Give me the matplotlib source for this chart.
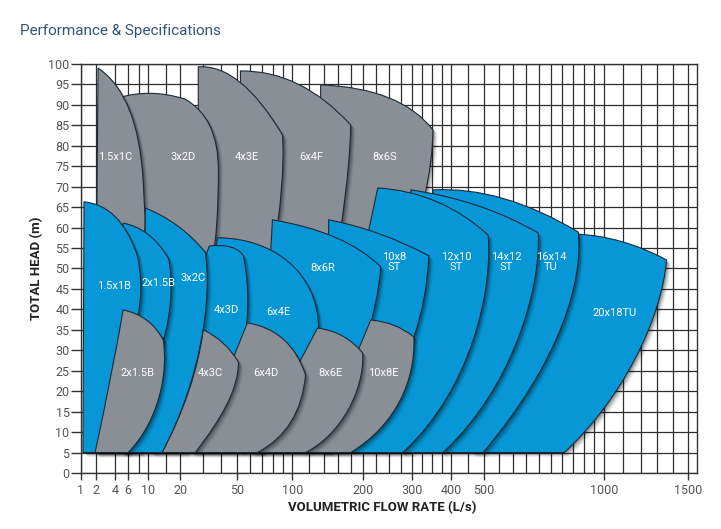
import numpy as np
import matplotlib
matplotlib.use("Agg")
import matplotlib.pyplot as plt
from matplotlib.path import Path
from matplotlib.patches import PathPatch
import matplotlib.patheffects as pe

plt.rcParams['font.family'] = ['Roboto', 'DejaVu Sans']

# axes: flow rate (L/s) on a cube-root scale, head (m)
flow_ticks = [1, 2, 4, 6, 10, 20, 50, 100, 200, 300, 400, 500, 1000, 1500]
flow_grid = [8, 15, 30, 40, 60, 70, 80, 90, 120, 140, 160, 180, 225, 250, 275,
             325, 350, 375, 450, 550, 600, 650, 700, 750, 800, 850, 900, 950,
             1100, 1200, 1300, 1400]
head_ticks = list(range(0, 101, 5))

# pump envelopes, (flow, head) pairs
# M = start, L = line, Q = quadratic curve (ctrl, end), C = cubic curve (ctrl, ctrl, end)
env_8x6S = [("M", 134.7, 5), ("L", 134.7, 94.9), ("Q", 275.3, 94.1, 351.4, 83.9),
            ("Q", 351.4, 76.5, 328.8, 66.8), ("L", 297.8, 5)]
env_6x4F = [("M", 52.6, 5), ("L", 52.6, 98.3), ("Q", 109.3, 98.5, 179.7, 85.1),
            ("Q", 179.7, 76.5, 163.7, 59.4), ("L", 148.7, 5)]
env_4x3E = [("M", 27.6, 5), ("L", 27.6, 99.3), ("Q", 52.6, 100, 89.4, 82.6),
            ("Q", 92.5, 71.6, 79.4, 52.1), ("L", 70.2, 5)]
env_3x2D = [("M", 4.44, 5), ("L", 4.44, 91.7), ("Q", 10.57, 94.1, 21.9, 91.4),
            ("Q", 38.2, 86.8, 38.2, 74.1), ("Q", 38.2, 59.4, 34.8, 52.1), ("L", 28.6, 5)]
env_1p5x1C = [("M", 1.94, 5), ("L", 2.19, 99.0), ("Q", 7.86, 92.4, 8.92, 71.6),
              ("L", 9.38, 61.9), ("L", 8.27, 5)]

env_20x18TU = [("M", 458.7, 5), ("L", 795, 37.4), ("L", 863.5, 58.4),
               ("Q", 1092, 57.95, 1358, 52.1), ("C", 1327, 37.4, 1092, 17.85, 808.4, 5)]
env_16x14TU = [("M", 372.4, 5), ("L", 351.4, 69.2), ("Q", 557.3, 70.2, 872.9, 58.9),
               ("C", 896.7, 47.2, 795, 27.6, 496.6, 5)]
env_14x12ST = [("M", 275.3, 5), ("L", 297.8, 69.2), ("Q", 490.1, 66.75, 697.2, 58.7),
               ("C", 709.5, 44.7, 593.1, 20.3, 377.8, 5)]
env_12x10ST = [("M", 179.7, 5), ("L", 209.2, 58.2), ("L", 227.9, 69.7),
               ("Q", 372.4, 68.7, 513, 58.2), ("C", 529.8, 44.7, 458.7, 20.3, 279.7, 5)]
env_10x8ST = [("M", 109.3, 5), ("L", 145.85, 52.1), ("L", 145.85, 61.9),
              ("Q", 233.8, 59.4, 341.2, 53.1), ("Q", 336.2, 42.3, 304.7, 33.25), ("L", 171.6, 5)]
env_8x6R = [("M", 60.2, 5), ("L", 77.5, 53.3), ("L", 79.4, 61.9),
            ("Q", 171.6, 58.9, 233.8, 50.4), ("Q", 229.9, 42.3, 200.2, 29.6), ("L", 109.3, 5)]
env_6x4E = [("M", 24, 5), ("L", 37.6, 57.5), ("C", 77.5, 57.5, 132, 49.6, 132, 35),
            ("Q", 132, 28.85, 115.3, 24), ("L", 52.6, 5)]
env_4x3D = [("M", 10.6, 5), ("L", 24.0, 42.3), ("L", 33.1, 55.5), ("Q", 49.0, 56.2, 54.8, 53.1),
            ("C", 59.4, 46.0, 60.2, 35.0, 51.2, 27.1), ("L", 21.9, 5)]
env_3x2C = [("M", 4.72, 5), ("L", 9.38, 57.5), ("L", 9.38, 64.8), ("Q", 19.95, 61.4, 31.05, 54.0),
            ("C", 34.8, 42.3, 28.6, 22.7, 13.85, 5)]
env_2x1p5B_hi = [("M", 5.17, 5), ("L", 5.17, 61.1), ("Q", 10.57, 59.9, 15.72, 52.6),
                 ("C", 17.75, 47.2, 16.38, 37.4, 14.16, 32.5), ("L", 5.49, 5)]
env_1p5x1B = [("M", 1.124, 5), ("L", 1.181, 66.3), ("Q", 4.72, 65.5, 7.66, 53.3),
              ("Q", 9.15, 46.0, 7.86, 38.6), ("L", 4.44, 5)]

env_10x8E = [("M", 214.7, 37.4), ("Q", 264.5, 36.9, 304.7, 33.25),
             ("C", 309.4, 22.7, 264.5, 11.7, 179.7, 5), ("L", 115.3, 5), ("L", 171.6, 22.7)]
env_8x6E = [("M", 130.6, 35.45), ("Q", 171.6, 34.5, 200.2, 29.3),
            ("C", 203.8, 20.3, 163.7, 9.3, 115.3, 5), ("L", 65.9, 5), ("L", 109.3, 27.6)]
env_6x4D = [("M", 57.8, 36.7), ("Q", 97.9, 35.0, 115.3, 24.0),
            ("Q", 109.3, 10.5, 65.9, 5), ("L", 26.2, 5), ("L", 52.6, 32.5)]
env_4x3C = [("M", 30.04, 35.0), ("Q", 42.4, 32.5, 51.2, 27.1),
            ("C", 51.2, 20.3, 39.4, 13.0, 26.2, 5), ("L", 13.85, 5), ("Q", 26.2, 20.3, 30.04, 35.0)]
env_2x1p5B_lo = [("M", 5.17, 39.85), ("Q", 10.57, 38.6, 14.16, 32.5),
                 ("C", 15.72, 25.2, 13.27, 13.0, 5.98, 5), ("L", 1.94, 5), ("Q", 3.77, 25.2, 5.17, 39.85)]

gray = '#8a8f95'
blue = '#0797d6'
# drawing order: back row, blue row, front row; left shapes overlap right ones
layers = [
    (gray, [env_8x6S, env_6x4F, env_4x3E, env_3x2D, env_1p5x1C]),
    (blue, [env_20x18TU, env_16x14TU, env_14x12ST, env_12x10ST, env_10x8ST,
            env_8x6R, env_6x4E, env_4x3D, env_3x2C, env_2x1p5B_hi, env_1p5x1B]),
    (gray, [env_10x8E, env_8x6E, env_6x4D, env_4x3C, env_2x1p5B_lo]),
]

label_text = ["1.5x1C", "3x2D", "4x3E", "6x4F", "8x6S",
              "1.5x1B", "2x1.5B", "3x2C", "4x3D", "6x4E", "8x6R",
              "10x8\nST", "12x10\nST", "14x12\nST", "16x14\nTU", "20x18TU",
              "2x1.5B", "4x3C", "6x4D", "8x6E", "10x8E"]
label_flow = [4.03, 21.1, 57.1, 122.8, 241.7,
              3.9, 12.7, 25.3, 43.1, 85.3, 137.4,
              260, 414, 575, 751, 1054,
              7.65, 33.7, 72.9, 148.7, 239.7]
label_head = [77.3, 77.3, 77.3, 77.3, 77.3,
              45.7, 46.5, 47.7, 39.9, 39.4, 50.1,
              51.6, 51.6, 51.6, 51.6, 39.1,
              24.4, 24.4, 24.4, 24.4, 24.4]

codes_for = {"M": [Path.MOVETO], "L": [Path.LINETO],
             "Q": [Path.CURVE3] * 2, "C": [Path.CURVE4] * 3}


def to_path(segs):
    verts, codes = [], []
    for s in segs:
        pts = s[1:]
        verts += list(zip(pts[::2], pts[1::2]))
        codes += codes_for[s[0]]
    verts.append(verts[0])
    codes.append(Path.CLOSEPOLY)
    return Path(verts, codes)


fig = plt.figure(figsize=(7.21, 5.29), dpi=100)
ax = fig.add_axes([0.1119, 0.1059, 0.8548, 0.7732])
ax.set_xscale('function', functions=(np.cbrt, lambda v: v ** 3))
ax.set_xlim(1, 1560)
ax.set_ylim(0, 100)

# soft drop shadow built from a few offset copies
shadow = [pe.SimplePatchShadow(offset=(d, -d), shadow_rgbFace='k', alpha=a)
          for d, a in [(3.4, 0.06), (2.6, 0.1), (1.8, 0.14), (1.0, 0.2)]]
shadow.append(pe.Normal())
z = 3
for color, shapes in layers:
    for segs in shapes:
        p = PathPatch(to_path(segs), facecolor=color, edgecolor='#1c2a38',
                      lw=0.8, zorder=z, transform=ax.transData)
        p.set_path_effects(shadow)
        ax.add_patch(p)
        z += 0.01

for t, f, h in zip(label_text, label_flow, label_head):
    ax.text(f, h, t, color='white', fontsize=8, ha='center', va='center',
            linespacing=1.0, zorder=10)

ax.set_xticks(flow_ticks)
ax.set_xticklabels([str(t) for t in flow_ticks])
ax.set_xticks(flow_grid, minor=True)
ax.set_yticks(head_ticks)
ax.tick_params(axis='x', which='major', length=5, width=1, color='#333333',
               labelsize=9, labelcolor='#555555', pad=3)
ax.tick_params(axis='x', which='minor', length=0)
ax.tick_params(axis='y', length=7, width=1, color='#333333',
               labelsize=9, labelcolor='#555555', pad=1)
ax.grid(True, which='both', color='#2e2e2e', lw=0.9)
ax.set_axisbelow(True)
for sp in ax.spines.values():
    sp.set_color('#333333')
    sp.set_linewidth(1)

ax.set_xlabel('VOLUMETRIC FLOW RATE (L/s)', fontsize=9.5, fontweight='bold', color='#222222')
ax.set_ylabel('TOTAL HEAD (m)', fontsize=9.5, fontweight='bold', color='#222222')
ax.xaxis.set_label_coords(0.49, -0.085)
ax.xaxis.label.set_va('center')
ax.yaxis.set_label_coords(-0.071, 0.5)
ax.yaxis.label.set_va('center')

fig.text(0.028, 0.941, 'Performance & Specifications', fontsize=11, color='#33547a',
         ha='left', va='center')

fig.savefig('out.png', dpi=100)
